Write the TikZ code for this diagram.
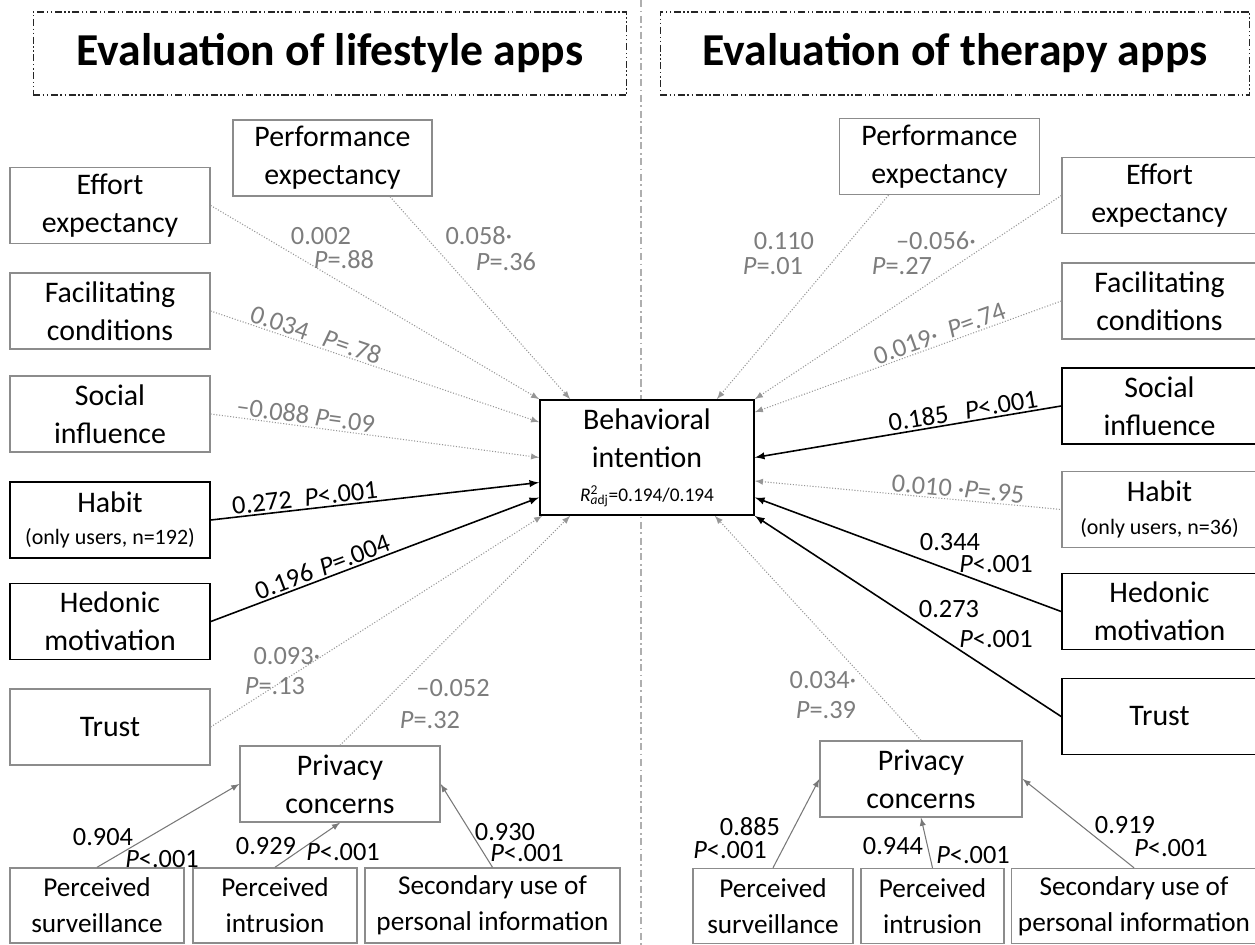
\documentclass[tikz,border=0pt]{standalone}
\usepackage{fontspec}
\setmainfont{Carlito}
\definecolor{boxgray}{RGB}{140,140,140}
\definecolor{linegray}{RGB}{150,150,150}
\definecolor{sepgray}{RGB}{175,175,175}
\definecolor{loadgray}{RGB}{120,120,120}
\definecolor{labelgray}{RGB}{125,125,125}

\begin{document}
\begin{tikzpicture}[x=0.02cm, y=-0.02cm,
    var/.style={draw=boxgray, line width=0.8pt, fill=white, minimum width=4cm, minimum height=1.52cm, align=center, inner sep=1pt, font=\fontsize{17}{21.5}\selectfont},
    sigvar/.style={var, draw=black, line width=1pt},
    indic/.style={draw=boxgray, line width=0.8pt, fill=white, minimum height=1.5cm, align=center, inner sep=1pt, font=\fontsize{15.5}{20.5}\selectfont},
    heading/.style={draw=black!85, line width=0.6pt, dash pattern=on 4pt off 1.5pt on 0.8pt off 1.5pt on 0.8pt off 1.5pt, minimum height=1.66cm, font=\fontsize{26}{30}\selectfont\bfseries},
    weak/.style={draw=linegray, line width=0.6pt, densely dotted, -latex},
    strong/.style={draw=black, line width=0.9pt, -latex},
    loading/.style={draw=loadgray, line width=0.6pt, -latex},
    coef/.style={font=\fontsize{15}{18}\selectfont, text=labelgray, inner sep=1pt},
    sigcoef/.style={coef, text=black}
]
\useasboundingbox (0,0) rectangle (1255,945);

% Separator
\draw[sepgray, line width=0.6pt, dash pattern=on 4pt off 2pt on 1pt off 2pt] (641,0) -- (641,945);

% Headings
\node[heading, minimum width=11.88cm] (headL) at (330,53.5) {Evaluation of lifestyle apps};
\node[heading, minimum width=11.8cm] (headR) at (955,53.5) {Evaluation of therapy apps};

% Target
\node[draw, line width=1pt, fill=white, minimum width=4.28cm, minimum height=2.3cm, align=center, inner sep=1pt, font=\fontsize{17}{21.5}\selectfont] (bi) at (647,457.5)
    {Behavioral\\intention\\[-2pt]{\fontsize{11}{13}\selectfont\textit{R}\rlap{\textsuperscript{2}}\textsubscript{\textit{a}dj}=0.194/0.194}};

% Lifestyle apps
\node[var, minimum width=3.98cm] (perfL) at (332.5,158) {Performance\\expectancy};
\node[var] (effL) at (110,205.5) {Effort\\expectancy};
\node[var] (facL) at (110,311) {Facilitating\\conditions};
\node[var] (socL) at (110,414) {Social\\influence};
\node[sigvar] (habL) at (110,520) {Habit\\[-3pt]{\fontsize{12.5}{15}\selectfont (only users, n=192)}};
\node[sigvar] (hedL) at (110,621.5) {Hedonic\\motivation};
\node[var] (truL) at (110,727) {Trust};
\node[var] (prvL) at (340,784) {Privacy\\concerns};
\node[indic, minimum width=3.48cm] (psL) at (97,905.5) {Perceived\\surveillance};
\node[indic, minimum width=3.28cm] (piL) at (275,905.5) {Perceived\\intrusion};
\node[indic, minimum width=5.1cm] (suL) at (492.5,905.5) {Secondary use of\\personal information};

\draw[weak] ([xshift=1.15cm]perfL.south) -- ([xshift=0.62cm]bi.north west);
\draw[weak] (effL.east) -- (bi.north west);
\draw[weak] (facL.east) -- node[coef, sloped, above, pos=0.2] (cFacL) {0.034} node[coef, sloped, above, pos=0.42] (pFacL) {\textit{P}=.78} ([yshift=-0.46cm]bi.north west);
\draw[weak] (socL.east) -- node[coef, sloped, above, pos=0.285] (cSocL) {--0.088 \textit{P}=.09} (bi.west);
\draw[strong] (habL.east) -- node[sigcoef, sloped, above, pos=0.16] (cHabL) {0.272} node[sigcoef, sloped, above, pos=0.40] (pHabL) {\textit{P}<.001} ([yshift=-0.5cm]bi.west);
\draw[strong] (hedL.east) -- node[sigcoef, sloped, above, pos=0.235] (cHedL) {0.196} node[sigcoef, sloped, above, pos=0.45] (pHedL) {\textit{P}=.004} ([yshift=-0.8cm]bi.west);
\draw[weak] (truL.east) -- ([xshift=0.06cm]bi.south west);
\draw[weak] (prvL.north) -- ([xshift=0.62cm]bi.south west);
\draw[loading] (psL.north) -- (prvL.west);
\draw[loading] (piL.north) -- (prvL.south);
\draw[loading] (suL.north) -- (prvL.east);

\node[coef] (cEffL) at (321,236) {0.002};
\node[coef] (pEffL) at (344,260) {\textit{P}=.88};
\node[coef] (cPerfL) at (479,236) {0.058·};
\node[coef] (pPerfL) at (506,262) {\textit{P}=.36};
\node[coef] (cTruL) at (287,656) {0.093·};
\node[coef] (pTruL) at (275,686) {\textit{P}=.13};
\node[coef] (cPrvL) at (453,688) {--0.052};
\node[coef] (pPrvL) at (430,720) {\textit{P}=.32};
\node[sigcoef] (cPsL) at (103,837) {0.904};
\node[sigcoef] (pPsL) at (162,859) {\textit{P}<.001};
\node[sigcoef] (cPiL) at (266,846) {0.929};
\node[sigcoef] (pPiL) at (343,852) {\textit{P}<.001};
\node[sigcoef] (cSuL) at (505,832) {0.930};
\node[sigcoef] (pSuL) at (527,853) {\textit{P}<.001};

% Therapy apps
\node[var] (perfR) at (939.5,156.5) {Performance\\expectancy};
\node[var, minimum width=3.9cm] (effR) at (1159.5,195.5) {Effort\\expectancy};
\node[var, minimum width=3.9cm] (facR) at (1159.5,301) {Facilitating\\conditions};
\node[sigvar, minimum width=3.9cm] (socR) at (1159.5,406) {Social\\influence};
\node[var, minimum width=3.9cm] (habR) at (1159.5,509.5) {Habit\\[-3pt]{\fontsize{12.5}{15}\selectfont (only users, n=36)}};
\node[sigvar, minimum width=3.9cm] (hedR) at (1159.5,611.5) {Hedonic\\motivation};
\node[sigvar, minimum width=3.9cm] (truR) at (1159.5,716.5) {Trust};
\node[var, minimum width=4.04cm] (prvR) at (921,779) {Privacy\\concerns};
\node[indic, minimum width=3.2cm] (psR) at (773,906) {Perceived\\surveillance};
\node[indic, minimum width=2.86cm] (piR) at (932.5,906) {Perceived\\intrusion};
\node[indic, minimum width=4.9cm] (suR) at (1134,906) {Secondary use of\\personal information};

\draw[weak] ([xshift=-1.02cm]perfR.south) -- ([xshift=-0.76cm]bi.north east);
\draw[weak] (effR.west) -- (bi.north east);
\draw[weak, latex-] ([yshift=-0.26cm]bi.north east) -- node[coef, sloped, above, pos=0.505] (cFacR) {0.019·} node[coef, sloped, above, pos=0.735] (pFacR) {\textit{P}=.74} (facR.west);
\draw[strong, latex-] (bi.east) -- node[sigcoef, sloped, above, pos=0.54] (cSocR) {0.185} node[sigcoef, sloped, above, pos=0.81] (pSocR) {\textit{P}<.001} (socR.west);
\draw[weak, latex-] ([yshift=-0.47cm]bi.east) -- node[coef, sloped, above, pos=0.66] (cHabR) {0.010 ·\textit{P}=.95} (habR.west);
\draw[strong] (hedR.west) -- ([yshift=-0.8cm]bi.east);
\draw[strong] (truR.west) -- (bi.south east);
\draw[weak] (prvR.north) -- ([xshift=-0.8cm]bi.south east);
\draw[loading] (psR.north) -- (prvR.west);
\draw[loading] (piR.north) -- (prvR.south);
\draw[loading] (suR.north) -- (prvR.east);

\node[coef] (cPerfR) at (784,241) {0.110};
\node[coef] (pPerfR) at (773,266) {\textit{P}=.01};
\node[coef] (cEffR) at (936,241) {--0.056·};
\node[coef] (pEffR) at (902,266) {\textit{P}=.27};
\node[sigcoef] (cHedR) at (950,542) {0.344};
\node[sigcoef] (pHedR) at (996,564) {\textit{P}<.001};
\node[sigcoef] (cTruR) at (949,609) {0.273};
\node[sigcoef] (pTruR) at (996,639) {\textit{P}<.001};
\node[coef] (cPrvR) at (823,680) {0.034·};
\node[coef] (pPrvR) at (826,710) {\textit{P}=.39};
\node[sigcoef] (cPsR) at (750,827) {0.885};
\node[sigcoef] (pPsR) at (730,850) {\textit{P}<.001};
\node[sigcoef] (cPiR) at (893,846) {0.944};
\node[sigcoef] (pPiR) at (973,855) {\textit{P}<.001};
\node[sigcoef] (cSuR) at (1125,825) {0.919};
\node[sigcoef] (pSuR) at (1171,848) {\textit{P}<.001};

\end{tikzpicture}
\end{document}
